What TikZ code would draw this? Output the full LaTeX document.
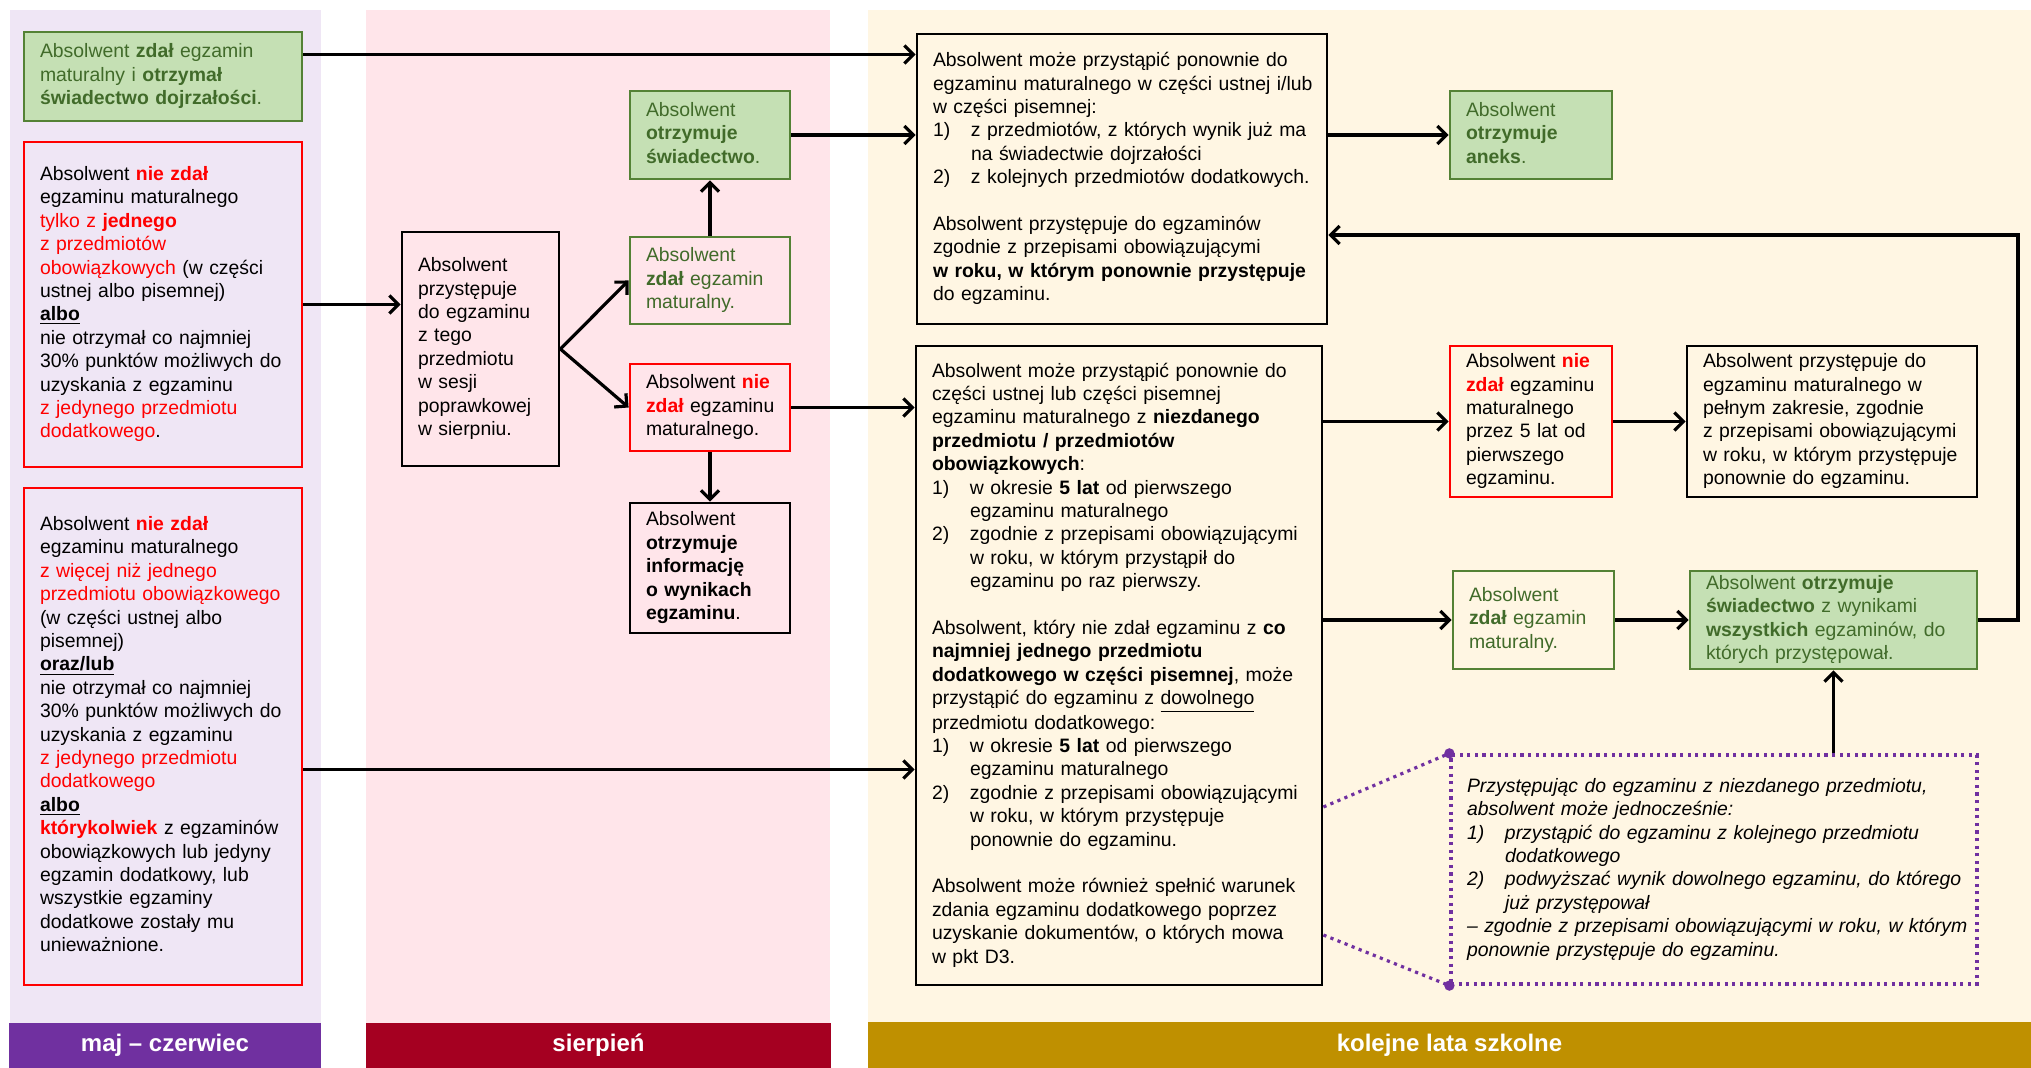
\documentclass[tikz,border=0pt]{standalone}
\usepackage{fontspec}
\setmainfont{Liberation Sans}
\usetikzlibrary{arrows.meta,calc}
\definecolor{bgP}{HTML}{EFE6F5}
\definecolor{bgR}{HTML}{FFE5EA}
\definecolor{bgY}{HTML}{FFF6E3}
\definecolor{barP}{HTML}{7030A0}
\definecolor{barR}{HTML}{A50021}
\definecolor{barY}{HTML}{BF9000}
\definecolor{gborder}{HTML}{548235}
\definecolor{gfill}{HTML}{C5E0B4}
\definecolor{gtext}{HTML}{416B2A}
\definecolor{rd}{HTML}{FF0000}
\definecolor{dotc}{HTML}{7030A0}
\newcommand\FSz{\fontsize{9.7}{11.7}\selectfont}
\newcommand\BxT[1]{\begin{tabular}{@{}l@{}}#1\end{tabular}}
\newcommand\RedB[1]{\textcolor{rd}{\textbf{#1}}}
\newcommand\RedT[1]{\textcolor{rd}{#1}}
\newcommand\ItemN[1]{\makebox[19pt][l]{#1}}
\newcommand\ItemI{\hspace*{19pt}}
\begin{document}
\begin{tikzpicture}[x=0.5pt,y=-0.5pt,
  bx/.style={draw, line width=1.4pt, inner xsep=8pt, inner ysep=0pt, align=left, font=\FSz},
  sz/.style n args={3}{minimum width=#1, minimum height=#2, text width=#3},
  gbox/.style={bx, draw=gborder, fill=gfill, text=gtext},
  gobox/.style={bx, draw=gborder, text=gtext},
  rbox/.style={bx, draw=rd},
  kbox/.style={bx, draw=black},
  dbox/.style={bx, draw=dotc, line width=1.6pt, dash pattern=on 1.6pt off 2.2pt, font=\FSz\itshape},
  arr/.style={line width=1.6pt, -{Straight Barb[length=4.5pt,width=9pt]}},
  dotl/.style={draw=dotc, line width=1.6pt, dash pattern=on 1.6pt off 2.2pt},
  barlbl/.style={text=white, font=\fontsize{12}{14}\selectfont\bfseries}
]
\useasboundingbox (0,0) rectangle (2031,1068);
% bands
\fill[bgP] (10,10) rectangle (321,1023);
\fill[bgR] (366,10) rectangle (830,1023);
\fill[bgY] (868,10) rectangle (2031,1023);
\fill[barP] (9,1023) rectangle (321,1068);
\fill[barR] (366,1023) rectangle (831,1068);
\fill[barY] (868,1022) rectangle (2031,1068);
\node[barlbl] (Lp) at (165,1045.5) {maj – czerwiec};
\node[barlbl] (Lr) at (598.5,1045.5) {sierpień};
\node[barlbl] (Ly) at (1449.5,1045.5) {kolejne lata szkolne};

% left column
\node[gbox, sz={139pt}{44.5pt}{123pt}] (G1) at (163,76.5)
 {\BxT{Absolwent \textbf{zdał} egzamin\\ maturalny i \textbf{otrzymał}\\ \textbf{świadectwo dojrzałości}.}};
\node[rbox, sz={139pt}{162.5pt}{123pt}] (R1) at (163,304.5)
 {\BxT{Absolwent \RedB{nie zdał}\\ egzaminu maturalnego\\ \RedT{tylko z \textbf{jednego}}\\ \RedT{z przedmiotów}\\ \RedT{obowiązkowych} (w części\\ ustnej albo pisemnej)\\ \underline{\textbf{albo}}\\ nie otrzymał co najmniej\\ 30\% punktów możliwych do\\ uzyskania z egzaminu\\ \RedT{z jedynego przedmiotu}\\ \RedT{dodatkowego}.}};
\node[rbox, sz={139pt}{248.5pt}{123pt}] (R2) at (163,736.5)
 {\BxT{Absolwent \RedB{nie zdał}\\ egzaminu maturalnego\\ \RedT{z więcej niż jednego}\\ \RedT{przedmiotu obowiązkowego}\\ (w części ustnej albo\\ pisemnej)\\ \underline{\textbf{oraz/lub}}\\ nie otrzymał co najmniej\\ 30\% punktów możliwych do\\ uzyskania z egzaminu\\ \RedT{z jedynego przedmiotu}\\ \RedT{dodatkowego}\\ \underline{\textbf{albo}}\\ \RedB{którykolwiek} z egzaminów\\ obowiązkowych lub jedyny\\ egzamin dodatkowy, lub\\ wszystkie egzaminy\\ dodatkowe zostały mu\\ unieważnione.}};

% middle column
\node[kbox, sz={78.5pt}{117pt}{62.5pt}] (P) at (480.5,349)
 {\BxT{Absolwent\\ przystępuje\\ do egzaminu\\ z tego\\ przedmiotu\\ w sesji\\ poprawkowej\\ w sierpniu.}};
\node[gbox, sz={80pt}{44pt}{64pt}] (G2) at (710,135)
 {\BxT{Absolwent\\ \textbf{otrzymuje}\\ \textbf{świadectwo}.}};
\node[gobox, sz={80pt}{43.5pt}{64pt}] (G3) at (710,280.5)
 {\BxT{Absolwent\\ \textbf{zdał} egzamin\\ maturalny.}};
\node[rbox, sz={80pt}{43.5pt}{64pt}] (R3) at (710,407.5)
 {\BxT{Absolwent \RedB{nie}\\ \RedB{zdał} egzaminu\\ maturalnego.}};
\node[kbox, sz={80pt}{65pt}{64pt}] (B1) at (710,568)
 {\BxT{Absolwent\\ \textbf{otrzymuje}\\ \textbf{informację}\\ \textbf{o wynikach}\\ \textbf{egzaminu}.}};

% right column
\node[kbox, sz={205pt}{145pt}{189pt}] (Y1) at (1122,179)
 {\BxT{Absolwent może przystąpić ponownie do\\ egzaminu maturalnego w części ustnej i/lub\\ w części pisemnej:\\ \ItemN{1)}z przedmiotów, z których wynik już ma\\ \ItemI na świadectwie dojrzałości\\ \ItemN{2)}z kolejnych przedmiotów dodatkowych.\\ ~\\ Absolwent przystępuje do egzaminów\\ zgodnie z przepisami obowiązującymi\\ \textbf{w roku, w którym ponownie przystępuje}\\ do egzaminu.}};
\node[kbox, sz={203pt}{319.5pt}{187pt}] (Y2) at (1119,665.5)
 {\BxT{Absolwent może przystąpić ponownie do\\ części ustnej lub części pisemnej\\ egzaminu maturalnego z \textbf{niezdanego}\\ \textbf{przedmiotu / przedmiotów}\\ \textbf{obowiązkowych}:\\ \ItemN{1)}w okresie \textbf{5 lat} od pierwszego\\ \ItemI egzaminu maturalnego\\ \ItemN{2)}zgodnie z przepisami obowiązującymi\\ \ItemI w roku, w którym przystąpił do\\ \ItemI egzaminu po raz pierwszy.\\ ~\\ Absolwent, który nie zdał egzaminu z \textbf{co}\\ \textbf{najmniej jednego przedmiotu}\\ \textbf{dodatkowego w części pisemnej}, może\\ przystąpić do egzaminu z \underline{dowolnego}\\ przedmiotu dodatkowego:\\ \ItemN{1)}w okresie \textbf{5 lat} od pierwszego\\ \ItemI egzaminu maturalnego\\ \ItemN{2)}zgodnie z przepisami obowiązującymi\\ \ItemI w roku, w którym przystępuje\\ \ItemI ponownie do egzaminu.\\ ~\\ Absolwent może również spełnić warunek\\ zdania egzaminu dodatkowego poprzez\\ uzyskanie dokumentów, o których mowa\\ w pkt D3.}};
\node[gbox, sz={81pt}{44pt}{65pt}] (G4) at (1531,135)
 {\BxT{Absolwent\\ \textbf{otrzymuje}\\ \textbf{aneks}.}};
\node[rbox, sz={81pt}{75.5pt}{65pt}] (R4) at (1531,421.5)
 {\BxT{Absolwent \RedB{nie}\\ \RedB{zdał} egzaminu\\ maturalnego\\ przez 5 lat od\\ pierwszego\\ egzaminu.}};
\node[kbox, sz={145pt}{75.5pt}{129pt}] (B2) at (1832,421.5)
 {\BxT{Absolwent przystępuje do\\ egzaminu maturalnego w\\ pełnym zakresie, zgodnie\\ z przepisami obowiązującymi\\ w roku, w którym przystępuje\\ ponownie do egzaminu.}};
\node[gobox, sz={80.5pt}{49pt}{64.5pt}] (G5) at (1533.5,620)
 {\BxT{Absolwent\\ \textbf{zdał} egzamin\\ maturalny.}};
\node[gbox, sz={143.5pt}{49pt}{127.5pt}] (G6) at (1833.5,620)
 {\BxT{Absolwent \textbf{otrzymuje}\\ \textbf{świadectwo} z wynikami\\ \textbf{wszystkich} egzaminów, do\\ których przystępował.}};
\node[dbox, sz={263pt}{114.5pt}{247pt}] (D) at (1714,869.5)
 {\BxT{Przystępując do egzaminu z niezdanego przedmiotu,\\ absolwent może jednocześnie:\\ \ItemN{1)}przystąpić do egzaminu z kolejnego przedmiotu\\ \ItemI dodatkowego\\ \ItemN{2)}podwyższać wynik dowolnego egzaminu, do którego\\ \ItemI już przystępował\\ – zgodnie z przepisami obowiązującymi w roku, w którym\\ ponownie przystępuje do egzaminu.}};

% connectors
\draw[arr] ([yshift=11pt]G1.east) -- ([yshift=11pt]G1.east -| Y1.west);
\draw[arr] (R1.east) -- (R1.east -| P.west);
\draw[arr] (P.east) -- (G3.west);
\draw[arr] (P.east) -- (R3.west);
\draw[arr] (G3.north) -- (G2.south);
\draw[arr] (R3.south) -- (B1.north);
\draw[arr] (G2.east) -- (G2.east -| Y1.west);
\draw[arr] (R3.east) -- (R3.east -| Y2.west);
\draw[arr] ([yshift=-16.5pt]R2.east) -- ([yshift=-16.5pt]R2.east -| Y2.west);
\draw[arr] (G4.west -| Y1.east) -- (G4.west);
\draw[arr] (R4.west -| Y2.east) -- (R4.west);
\draw[arr] (R4.east) -- (B2.west);
\draw[arr] (G5.west -| Y2.east) -- (G5.west);
\draw[arr] (G5.east) -- (G6.east -| G6.west);
\coordinate (loopc) at (2018,235);
\draw[arr] (G6.east) -| (loopc) -- (loopc -| Y1.east);
\draw[arr] (G6.south |- D.north) -- (G6.south);
\draw[dotl] ([yshift=-70.75pt]Y2.east) -- (D.north west);
\draw[dotl] ([yshift=-134.75pt]Y2.east) -- (D.south west);
\fill[dotc] (D.north west) circle (2.6pt);
\fill[dotc] (D.south west) circle (2.6pt);
\end{tikzpicture}
\end{document}
